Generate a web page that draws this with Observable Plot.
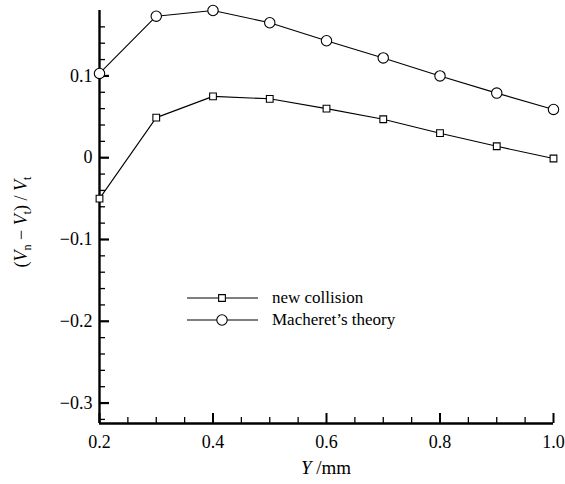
<!DOCTYPE html>
<html><head><meta charset="utf-8">
<script src="https://cdn.jsdelivr.net/npm/d3@7"></script>
<script src="https://cdn.jsdelivr.net/npm/@observablehq/plot@0.6"></script>
<style>body{margin:0;background:#fff} svg{display:block}</style>
</head><body><div id="chart"></div>
<script>
const yPos = [0.2, 0.3, 0.4, 0.5, 0.6, 0.7, 0.8, 0.9, 1.0];
const newCollision = [-0.050, 0.049, 0.075, 0.072, 0.060, 0.047, 0.030, 0.014, -0.001];
const macheret = [0.103, 0.173, 0.180, 0.165, 0.143, 0.122, 0.100, 0.079, 0.059];
const seriesNames = ["new collision", "Macheret\u2019s theory"];
const xMajorTicks = [0.2, 0.4, 0.6, 0.8, 1.0];
const xTickLabels = ["0.2", "0.4", "0.6", "0.8", "1.0"];
const xMinorTicks = [0.25, 0.3, 0.35, 0.45, 0.5, 0.55, 0.65, 0.7, 0.75, 0.85, 0.9, 0.95];
const yMajorTicks = [-0.3, -0.2, -0.1, 0, 0.1];
const yTickLabels = ["\u22120.3", "\u22120.2", "\u22120.1", "0", "0.1"];
const yMinorTicks = [-0.32, -0.28, -0.26, -0.24, -0.22, -0.18, -0.16, -0.14, -0.12, -0.08, -0.06, -0.04, -0.02, 0.02, 0.04, 0.06, 0.08, 0.12, 0.14, 0.16];

const rows1 = yPos.map((x, i) => ({x, y: newCollision[i]}));
const rows2 = yPos.map((x, i) => ({x, y: macheret[i]}));

const W = 565, H = 484;
const mL = 99, mR = 12, mT = 10, mB = 61;
const PW = W - mL - mR, PH = H - mT - mB;
const font = "'Liberation Serif', 'Times New Roman', serif";
const MAJ = 10, MIN = 6;

const plot = Plot.plot({
  width: W, height: H,
  marginLeft: mL, marginRight: mR, marginTop: mT, marginBottom: mB,
  style: {fontFamily: font, fontSize: "18px", background: "white", color: "black"},
  x: {domain: [0.2, 1.0]},
  y: {domain: [-0.325, 0.18]},
  marks: [
    Plot.tickX(xMajorTicks, {x: d => d, insetTop: PH - MAJ, stroke: "black", strokeWidth: 2}),
    Plot.tickX(xMinorTicks, {x: d => d, insetTop: PH - MIN, stroke: "black", strokeWidth: 1.3}),
    Plot.tickY(yMajorTicks, {y: d => d, insetRight: PW - MAJ, stroke: "black", strokeWidth: 2.2}),
    Plot.tickY(yMinorTicks, {y: d => d, insetRight: PW - MIN, stroke: "black", strokeWidth: 1.3}),
    Plot.axisX(xMajorTicks, {anchor: "bottom", tickSize: 0, tickPadding: 12, tickFormat: (d, i) => xTickLabels[i], label: null, fontSize: 18, fill: "black"}),
    Plot.axisY(yMajorTicks, {anchor: "left", tickSize: 0, tickPadding: 7, tickFormat: (d, i) => yTickLabels[i], label: null, fontSize: 18, fill: "black"}),
    Plot.ruleX([0.2], {strokeWidth: 2.4}),
    Plot.ruleY([-0.325], {strokeWidth: 2.4}),
    Plot.line(rows1, {x: "x", y: "y", stroke: "black", strokeWidth: 1.1}),
    Plot.line(rows2, {x: "x", y: "y", stroke: "black", strokeWidth: 1.1}),
    Plot.dot(rows1, {x: "x", y: "y", symbol: "square", r: 3.8, stroke: "black", fill: "white", strokeWidth: 1.1}),
    Plot.dot(rows2, {x: "x", y: "y", symbol: "circle", r: 5.2, stroke: "black", fill: "white", strokeWidth: 1.1})
  ]
});

const svg = d3.select(plot);
svg.selectAll("text").attr("font-family", font);

const yl = svg.append("text")
  .attr("transform", "translate(27,222) rotate(-90)")
  .attr("text-anchor", "middle")
  .attr("font-family", font).attr("font-size", 18);
yl.append("tspan").text("(");
yl.append("tspan").attr("font-style", "italic").text("V");
yl.append("tspan").attr("font-size", 12).attr("dy", 4).text("n");
yl.append("tspan").attr("dy", -4).text(" \u2212 ");
yl.append("tspan").attr("font-style", "italic").text("V");
yl.append("tspan").attr("font-size", 12).attr("dy", 4).text("t");
yl.append("tspan").attr("dy", -4).text(") / ");
yl.append("tspan").attr("font-style", "italic").text("V");
yl.append("tspan").attr("font-size", 12).attr("dy", 4).text("t");

const xl = svg.append("text")
  .attr("x", 326).attr("y", 474)
  .attr("text-anchor", "middle")
  .attr("font-family", font).attr("font-size", 19);
xl.append("tspan").attr("font-style", "italic").text("Y");
xl.append("tspan").text(" /mm");

const leg = svg.append("g").attr("font-family", font).attr("font-size", 17).attr("text-anchor", "start");
const legY = [298, 320];
const symbols = [d3.symbolSquare, d3.symbolCircle];
const sizes = [3.8 * 3.8 * Math.PI, 5.2 * 5.2 * Math.PI];
seriesNames.forEach((name, i) => {
  const g = leg.append("g").attr("transform", `translate(0,${legY[i]})`);
  g.append("line").attr("x1", 187).attr("x2", 258).attr("y1", 0).attr("y2", 0).attr("stroke", "black").attr("stroke-width", 1.1);
  g.append("path").attr("d", d3.symbol(symbols[i], sizes[i])()).attr("transform", "translate(222,0)")
    .attr("fill", "white").attr("stroke", "black").attr("stroke-width", 1.1);
  g.append("text").attr("x", 272).attr("y", 5).attr("text-anchor", "start").text(name);
});

document.getElementById("chart").appendChild(plot);
</script>
</body></html>
